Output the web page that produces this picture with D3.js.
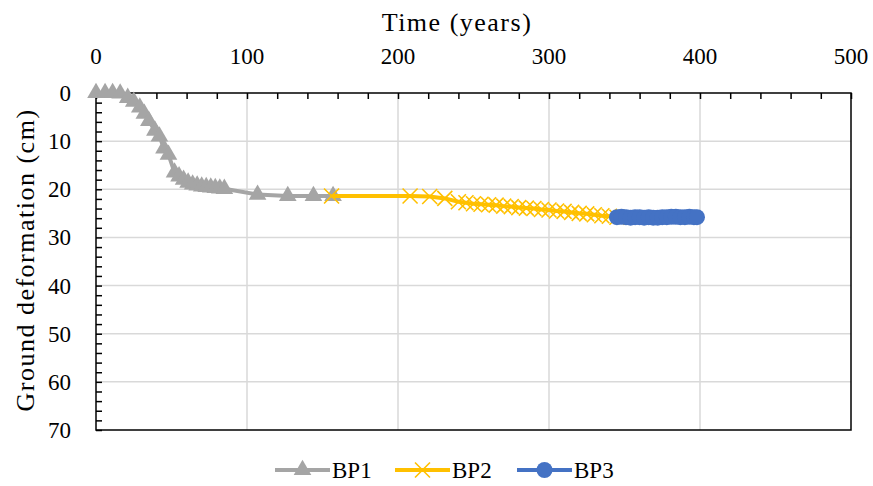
<!DOCTYPE html>
<html>
<head>
<meta charset="utf-8">
<script src="https://cdn.jsdelivr.net/npm/d3@7"></script>
<style>
  body { margin: 0; background: #fff; }
</style>
</head>
<body>
<div class="chart"></div>
<script>
// data: [years, cm]
const bp1 = [
  [0, 0], [6, 0], [11, 0], [16, 0.1], [21, 1], [25, 1.8], [29, 3], [32, 4.3],
  [35, 5.8], [39, 7.8], [42, 9], [45, 11.5], [48, 12.8], [52, 16.5], [55, 17.3],
  [58, 18], [61, 18.6], [64, 19], [67, 19.2], [70, 19.4], [73, 19.5], [76, 19.6],
  [79, 19.7], [82, 19.8], [85, 19.9], [107, 21.1], [127, 21.4], [144, 21.4], [157, 21.4]
];
const bp2 = [
  [156, 21.4], [208, 21.4], [221, 21.5], [231, 21.9], [240, 22.6], [245, 22.8],
  [250, 23.0], [255, 23.1], [260, 23.2], [265, 23.3], [270, 23.5], [275, 23.6],
  [280, 23.8], [285, 23.9], [290, 24.0], [295, 24.2], [300, 24.3], [305, 24.5],
  [310, 24.6], [315, 24.8], [320, 25.0], [325, 25.1], [330, 25.3], [335, 25.5],
  [340, 25.6], [345, 25.8]
];
const bp3 = [
  [345, 25.8], [348, 25.7], [351, 25.8], [354, 25.9], [357, 25.8], [360, 25.8],
  [363, 25.9], [366, 25.8], [369, 25.9], [372, 25.9], [375, 25.8], [378, 25.8],
  [381, 25.7], [384, 25.7], [387, 25.8], [390, 25.8], [393, 25.7], [396, 25.8], [398, 25.8]
];
const seriesNames = ["BP1", "BP2", "BP3"];
const xTicks = [0, 100, 200, 300, 400, 500];
const yTicks = [0, 10, 20, 30, 40, 50, 60, 70];

const w = 873, h = 486;
const pLeft = 96, pRight = 851, pTop = 93, pBottom = 430;
const font = "'Liberation Serif', 'Times New Roman', serif";

const svg = d3.select(".chart")
  .append("svg")
  .attr("width", w)
  .attr("height", h)
  .attr("font-family", font);

const x = d3.scaleLinear().domain([0, 500]).range([pLeft, pRight]);
const y = d3.scaleLinear().domain([0, 70]).range([pTop, pBottom]);

// gridlines
svg.append("g")
  .selectAll("line")
  .data(xTicks.slice(1, -1))
  .enter().append("line")
  .attr("x1", d => x(d)).attr("x2", d => x(d))
  .attr("y1", pTop).attr("y2", pBottom)
  .style("stroke", "#d9d9d9").style("stroke-width", 1.5);
svg.append("g")
  .selectAll("line")
  .data(yTicks.slice(1, -1))
  .enter().append("line")
  .attr("x1", pLeft).attr("x2", pRight)
  .attr("y1", d => y(d)).attr("y2", d => y(d))
  .style("stroke", "#d9d9d9").style("stroke-width", 1.5);

// axes (top and left), ticks inside
const xAxis = svg.append("g")
  .attr("transform", "translate(0," + pTop + ")")
  .call(d3.axisTop(x).tickValues(d3.range(0, 501, 20)).tickSize(-6).tickFormat(""));
xAxis.select(".domain").remove();
xAxis.selectAll("line").style("stroke", "#000").style("stroke-width", 1.5);

const yAxis = svg.append("g")
  .attr("transform", "translate(" + pLeft + ",0)")
  .call(d3.axisLeft(y).tickValues(d3.range(0, 71, 2)).tickSize(-6).tickFormat(""));
yAxis.select(".domain").remove();
yAxis.selectAll("line").style("stroke", "#000").style("stroke-width", 1.5);

svg.append("g").selectAll("text")
  .data(xTicks).enter().append("text")
  .attr("x", d => x(d)).attr("y", 64)
  .attr("text-anchor", "middle")
  .style("font-size", "23px")
  .text(d => d);
svg.append("g").selectAll("text")
  .data(yTicks).enter().append("text")
  .attr("x", 71).attr("y", d => y(d) + 8)
  .attr("text-anchor", "end")
  .style("font-size", "23px")
  .text(d => d);

// plot border
svg.append("rect")
  .attr("x", pLeft).attr("y", pTop)
  .attr("width", pRight - pLeft).attr("height", pBottom - pTop)
  .style("fill", "none").style("stroke", "#000").style("stroke-width", 1.5);

// titles
svg.append("text")
  .attr("x", 457).attr("y", 31)
  .attr("text-anchor", "middle")
  .style("font-size", "26px")
  .style("letter-spacing", "1.5px")
  .text("Time (years)");
svg.append("text")
  .attr("transform", "translate(34,260) rotate(-90)")
  .attr("text-anchor", "middle")
  .style("font-size", "26px")
  .style("letter-spacing", "1.5px")
  .text("Ground deformation (cm)");

const colors = ["#a5a5a5", "#ffc000", "#4472c4"];
const line = d3.line().x(d => x(d[0])).y(d => y(d[1]));
const tri = d3.symbol().type(d3.symbolTriangle).size(135);

function drawMarker(sel, i) {
  if (i === 0) {
    sel.append("path").attr("d", tri).style("fill", colors[0]);
  } else if (i === 1) {
    sel.append("path").attr("d", "M-7.5,-7.5L7.5,7.5M-7.5,7.5L7.5,-7.5")
      .style("stroke", colors[1]).style("stroke-width", 1.6).style("fill", "none");
  } else {
    sel.append("circle").attr("r", 8).style("fill", colors[2]);
  }
}

[bp1, bp2, bp3].forEach(function (data, i) {
  const g = svg.append("g");
  g.append("path")
    .datum(data)
    .attr("d", line)
    .style("fill", "none")
    .style("stroke", colors[i])
    .style("stroke-width", 4)
    .style("stroke-linejoin", "round");
  g.selectAll(".m")
    .data(data).enter().append("g")
    .attr("transform", d => "translate(" + x(d[0]) + "," + y(d[1]) + ")")
    .each(function () { drawMarker(d3.select(this), i); });
});

// legend
const legX = [275, 395, 517];
seriesNames.forEach(function (name, i) {
  const g = svg.append("g").attr("transform", "translate(" + legX[i] + ",470)");
  g.append("line").attr("x1", 0).attr("x2", 55)
    .style("stroke", colors[i]).style("stroke-width", 4);
  drawMarker(g.append("g").attr("transform", "translate(27.5,0)"), i);
  g.append("text").attr("x", 57).attr("y", 8)
    .style("font-size", "23px").text(name);
});
</script>
</body>
</html>
